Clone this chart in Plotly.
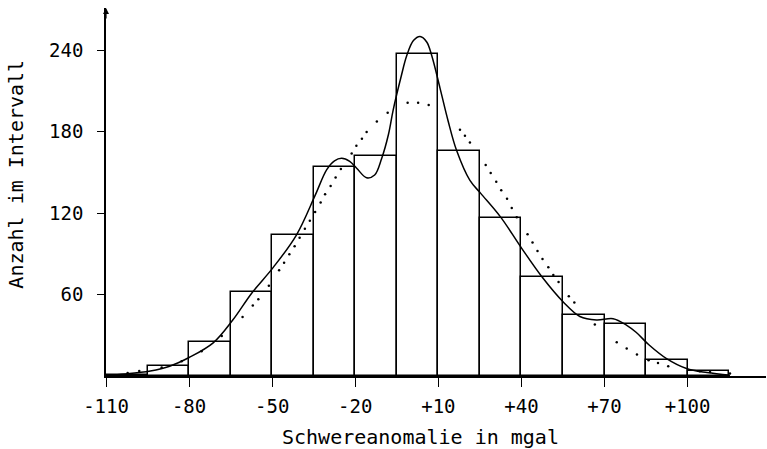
import plotly.graph_objects as go

# Histogram bins (15 mgal wide)
bin_centers = [-102.5, -87.5, -72.5, -57.5, -42.5, -27.5, -12.5, 2.5, 17.5, 32.5, 47.5, 62.5, 77.5, 92.5, 107.5]
bin_counts = [1, 7, 25, 62, 104, 154, 162, 237, 166, 116, 73, 45, 38, 12, 4]

# Smooth (solid) curve
curve_x = [-110, -103, -94, -87, -80, -71.3, -64.3, -57.4, -49.6, -41.2, -34.5, -30.3, -27.5, -24.9, -22,
           -19.5, -15.9, -13, -10.5, -8, -6.3, -3.5, -1.4, 1, 3.4, 5.8, 7.6, 10.6, 13.5, 16.6, 21.4,
           25.3, 32.5, 40.1, 47.6, 55.1, 61.1, 67.1, 73.1, 77.9, 81.5, 86, 92.4, 99.6, 107, 115.3]
curve_y = [0.5, 1.5, 3.7, 7.2, 13.6, 24.4, 41, 61, 80, 104, 133, 152, 158.5, 160.3, 158,
           153, 146, 148, 160, 178, 196, 220, 236, 247, 250, 246, 236, 212, 188, 166, 144,
           134.5, 117, 94, 72.5, 54.5, 43.8, 41.2, 42.2, 37.5, 32, 23, 12.8, 5.5, 2.5, 0.5]

# Dotted curve (normal fit)
dot_x = [-102.2, -98.0, -89.9, -82.7, -75.5, -68.2, -60.7, -57.0, -55.0, -51.2, -47.5, -45.7, -43.8, -41.9,
         -40.1, -38.2, -36.4, -34.5, -32.5, -30.9, -28.9, -27.1, -25.2, -21.3, -19.6, -17.6, -15.9, -12.2,
         -8.3, -1.1, 2.7, 6.5, 17.8, 19.6, 21.4, 27.1, 28.9, 30.9, 32.7, 34.8, 36.5, 38.3, 42.2, 44.0,
         45.8, 47.6, 49.7, 51.5, 53.4, 57.1, 59.1, 66.5, 74.4, 78.0, 81.7, 85.9, 89.3, 93.0, 104.4, 108.1, 115.3]
dot_y = [2.2, 3.7, 6.2, 10.8, 18.2, 29.5, 43.5, 52.0, 56.6, 66.4, 77.8, 83.4, 89.6, 95.5,
         101.8, 108.5, 114.4, 120.8, 127.7, 133.9, 140, 146.1, 152.5, 163.8, 169.5, 174.7, 179.6, 187.5,
         193.9, 201.3, 201.3, 199.6, 181.3, 176.9, 172, 155.3, 149.4, 143, 136.8, 130.6, 123.8, 116.9, 104.4, 98.4,
         92, 86.1, 80, 74.3, 69.2, 58.8, 54.2, 37.9, 24.9, 20.2, 15.8, 11.6, 9.6, 7.2, 3.5, 3, 1.8]

x_tickvals = [-110, -80, -50, -20, 10, 40, 70, 100]
x_ticktext = ["-110", "-80", "-50", "-20", "+10", "+40", "+70", "+100"]
y_tickvals = [60, 120, 180, 240]
y_ticktext = ["60", "120", "180", "240"]

FONT = "DejaVu Sans Mono"

fig = go.Figure()
fig.add_trace(go.Bar(x=bin_centers, y=bin_counts, width=15,
                     marker=dict(color="rgba(0,0,0,0)", line=dict(color="black", width=1.5)),
                     showlegend=False, hoverinfo="skip"))
fig.add_trace(go.Scatter(x=curve_x, y=curve_y, mode="lines",
                         line=dict(color="black", width=1.5, shape="spline", smoothing=1.0),
                         showlegend=False))
fig.add_trace(go.Scatter(x=dot_x, y=dot_y, mode="markers",
                         marker=dict(color="black", size=2.5),
                         showlegend=False))

fig.update_layout(
    width=767, height=449,
    margin=dict(l=106, r=1, t=8, b=73),
    plot_bgcolor="white", paper_bgcolor="white",
    font=dict(family=FONT, size=19, color="black"),
    bargap=0,
    xaxis=dict(range=[-110, 128.3], tickvals=x_tickvals, ticktext=x_ticktext,
               showgrid=False, zeroline=False, showline=True, linecolor="black", linewidth=1.5,
               ticks="outside", ticklen=9, tickwidth=1.2, tickcolor="black",
               ticklabelstandoff=3, tickfont=dict(family=FONT, size=19)),
    yaxis=dict(range=[0, 271], tickvals=y_tickvals, ticktext=y_ticktext,
               showgrid=False, zeroline=False, showline=True, linecolor="black", linewidth=1.5,
               ticks="outside", ticklen=7, tickwidth=1.2, tickcolor="black",
               ticklabelstandoff=10, tickfont=dict(family=FONT, size=19)),
    annotations=[
        dict(text="Schwereanomalie in mgal", xref="paper", yref="paper", x=0.477, y=-0.166,
             xanchor="center", yanchor="middle", showarrow=False, font=dict(family=FONT, size=20)),
        dict(text="Anzahl im Intervall", xref="paper", yref="paper", x=-0.1356, y=0.5485,
             xanchor="center", yanchor="middle", textangle=-90, showarrow=False,
             font=dict(family=FONT, size=20)),
        dict(x=-110, y=271, xref="x", yref="y", ax=0, ay=12, axref="pixel", ayref="pixel",
             showarrow=True, arrowhead=2, arrowsize=1, arrowwidth=1.2, arrowcolor="black", text=""),
    ],
)

fig.write_html("out.html", config={"displayModeBar": False},
               post_script="document.body.style.margin='0';document.body.style.overflow='hidden';")
